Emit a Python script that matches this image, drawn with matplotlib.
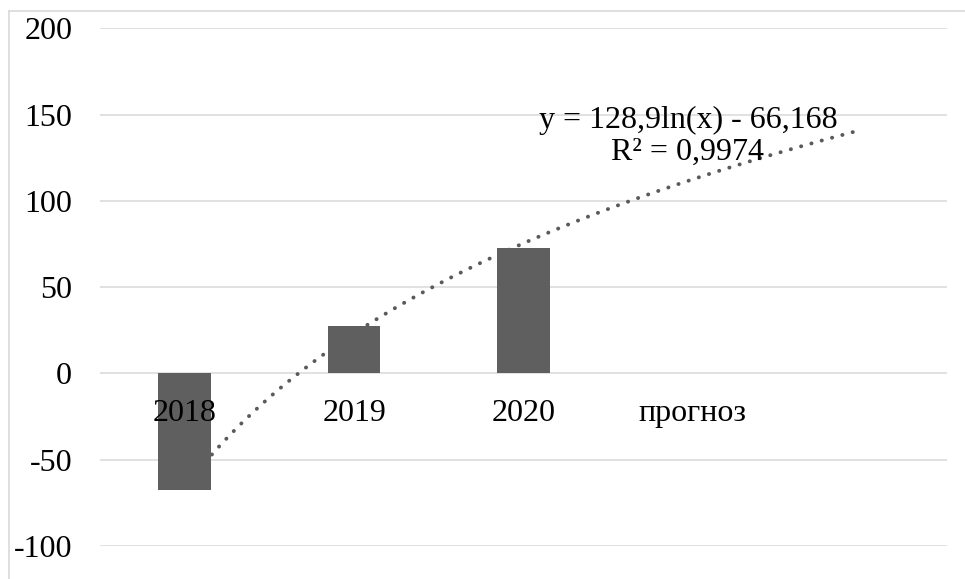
import numpy as np
import matplotlib
matplotlib.use('Agg')
import matplotlib.pyplot as plt
from matplotlib.lines import Line2D

# data
categories = ['2018', '2019', '2020', 'прогноз', '']
bar_years = [1, 2, 3]
bar_values = [-67.8, 27.2, 72.4]

# logarithmic trend: y = a*ln(x) + b
trend_a = 128.9
trend_b = -66.168
trend_r2 = 0.9974
trend_x_start, trend_x_end = 1, 5

y_ticks = [-100, -50, 0, 50, 100, 150, 200]

plt.rcParams['font.family'] = ['Liberation Serif', 'DejaVu Serif']
plt.rcParams['font.size'] = 23
plt.rcParams['axes.unicode_minus'] = False

fig = plt.figure(figsize=(9.65, 5.79), dpi=100)
ax = fig.add_axes([100 / 965, 1 - 546 / 579, 847 / 965, (546 - 28.3) / 579])

x = np.arange(1, len(categories) + 1)
ax.bar(bar_years, bar_values, width=0.31, color='#5f5f5f', zorder=2)

# dotted trendline over the category range (behind the bars)
tx = np.linspace(trend_x_start, trend_x_end, 200)
ty = trend_a * np.log(tx) + trend_b
ax.plot(tx, ty, color='#5a5a5a', linewidth=2.8,
        linestyle=(0, (0.05, 2.7)), dash_capstyle='round', zorder=1.5)

ax.text(3.97, 123.5, f'y = {trend_a:g}ln(x) - {-trend_b:g}\nR² = {trend_r2:g}'.replace('.', ','),
        ha='center', va='baseline', multialignment='center',
        linespacing=1.15, zorder=4)

# category labels sit just under the zero line
for xi, lab in zip(x, categories):
    ax.annotate(lab, (xi, 0), xytext=(0, -34.5), textcoords='offset points',
                ha='center', va='baseline', zorder=4)

ax.set_xlim(0.5, len(categories) + 0.5)
ax.set_ylim(-100, 200)
ax.set_yticks(y_ticks)
ax.set_xticks([])
ax.tick_params(axis='y', length=0, pad=20)
ax.yaxis.grid(True, color='#d9d9d9', linewidth=1.1, zorder=0)
ax.set_axisbelow(True)
for s in ax.spines.values():
    s.set_visible(False)

# chart area border (left and top edges)
fw, fh = 965, 579
fig.add_artist(Line2D([9 / fw, 9 / fw], [0, 1 - 11 / fh], color='#d9d9d9',
                      linewidth=1.2, transform=fig.transFigure))
fig.add_artist(Line2D([9 / fw, 1], [1 - 11 / fh, 1 - 11 / fh], color='#d9d9d9',
                      linewidth=1.2, transform=fig.transFigure))

fig.savefig('out.png', dpi=100)
